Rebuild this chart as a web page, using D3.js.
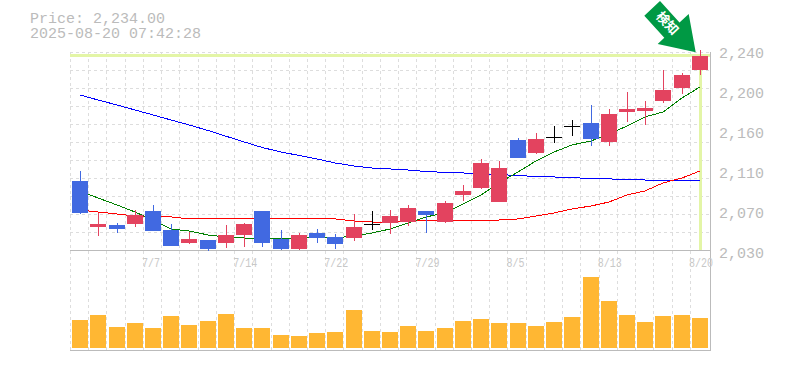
<!DOCTYPE html>
<html>
<head>
<meta charset="utf-8">
<script src="https://cdn.jsdelivr.net/npm/d3@7"></script>
<style>
    html, body { margin: 0; padding: 0; background: #fff; }
    svg { display: block; }
    text { font-family: "Liberation Mono", monospace; fill: #bbb; }
</style>
</head>
<body>
<div id="chart"></div>
<script>
// Daily prices
const dates = ["7/1","7/2","7/3","7/4","7/7","7/8","7/9","7/10","7/11","7/14","7/15","7/16","7/17","7/18","7/22","7/23","7/24","7/25","7/28","7/29","7/30","7/31","8/1","8/4","8/5","8/6","8/7","8/8","8/12","8/13","8/14","8/15","8/18","8/19","8/20"];
const opens = [2102,2054,2056,2058,2071,2051,2038,2040,2038,2045,2071,2042,2031,2048,2044,2042,2057,2059,2059,2071,2059,2088,2095,2080,2146,2132,2149,2160,2163,2144,2175,2176,2186,2200,2219];
const closes = [2068,2057,2052,2067,2050,2034,2042,2031,2046,2057,2037,2031,2046,2043,2037,2054,2057,2066,2074,2067,2079,2092,2121,2116,2127,2147,2149,2160,2146,2173,2178,2179,2198,2214,2234];
const highs = [2113,2069,2058,2072,2077,2057,2049,2040,2056,2058,2071,2051,2048,2052,2047,2068,2071,2072,2077,2071,2081,2098,2126,2123,2148,2153,2160,2167,2182,2178,2196,2186,2219,2216,2240];
const lows = [2068,2045,2048,2054,2050,2034,2036,2029,2032,2033,2033,2030,2030,2037,2031,2039,2051,2047,2055,2048,2058,2081,2094,2080,2127,2131,2142,2150,2139,2139,2164,2161,2184,2194,2214];
const volumes = [2800,3300,2100,2500,2000,3200,2300,2700,3400,2000,2000,1300,1200,1500,1600,3800,1700,1600,2200,1700,2000,2700,2900,2500,2500,2200,2600,3100,7100,4700,3300,2600,3200,3300,3000];

// Moving averages
const ma5 = [2092,2084.6,2077.3,2069.9,2061.5,2052,2050,2045.8,2043.7,2042.6,2042.6,2041.6,2042.6,2043.7,2042.6,2044.7,2047.9,2052,2058.4,2064.7,2068.9,2078.3,2087.8,2100.4,2111.9,2123.5,2132.9,2140.3,2144.5,2151.8,2160.2,2169.7,2174.9,2189.6,2201.2];
const ma25 = [2072,2069.9,2067.8,2065.7,2064.7,2064.7,2062.6,2062.6,2062.6,2063.6,2063.6,2062.6,2062.6,2062.6,2062.6,2060.5,2059.4,2059.4,2060.5,2061.5,2060.5,2060.5,2060.5,2061.5,2062.6,2065.7,2068.9,2073.1,2076.2,2080.4,2087.8,2092,2100.4,2105.6,2113];
const ma75 = [2192.8,2187.5,2182.3,2177,2171.8,2166.5,2161.3,2155.5,2149.5,2143.5,2137.7,2132.9,2129.3,2125.6,2121.4,2118.2,2116.1,2115.1,2114,2112.4,2111.5,2110.9,2110,2109.5,2107.9,2107.5,2106.7,2105.8,2105.3,2104.6,2104.2,2103.5,2103.5,2103.5,2103.5];

// Tick labels
const yTicks = [2240,2198,2156,2114,2072,2030];
const xTicks = ["7/7","7/14","7/22","7/29","8/5","8/13","8/20"];
const gridPrices = [2030,2048.9,2067.8,2086.7,2105.6,2124.5,2143.4,2162.3,2181.2,2200.1,2219,2237.9];
const titleLines = ["Price: 2,234.00", "2025-08-20 07:42:28"];
const lastClose = 2234;

const width = 785;
const height = 370;
const upColor = "#e3435f";
const downColor = "#4169e1";
const gridColor = "#ddd";
const axisColor = "#bbb";
const markColor = "#e3f5a6";

const svg = d3.select("#chart")
    .append("svg")
    .attr("width", width)
    .attr("height", height);

const xScale = d3.scaleBand()
    .domain(dates)
    .range([71, 709]);

const yScale = d3.scaleLinear()
    .domain([2030, 2240])
    .range([250, 50]);

const volScale = d3.scaleLinear()
    .domain([0, d3.max(volumes)])
    .range([348, 277]);

const center = d => Math.round(xScale(d) + xScale.bandwidth() / 2);
const snap = v => Math.round(v) + 0.5;
const bodyWidth = 16;

// Grid
const grid = svg.append("g")
    .attr("stroke", gridColor)
    .attr("stroke-dasharray", "3,3")
    .attr("shape-rendering", "crispEdges");

grid.selectAll(".gx")
    .data(dates)
    .enter()
    .append("line")
    .attr("x1", d => snap(xScale(d) - 1))
    .attr("x2", d => snap(xScale(d) - 1))
    .attr("y1", snap(yScale(gridPrices[11])))
    .attr("y2", 350);

grid.selectAll(".gy")
    .data(gridPrices.slice(1))
    .enter()
    .append("line")
    .attr("x1", 70)
    .attr("x2", 710)
    .attr("y1", d => snap(yScale(d)))
    .attr("y2", d => snap(yScale(d)));

// Axis frame
const frame = svg.append("g")
    .attr("stroke", axisColor)
    .attr("shape-rendering", "crispEdges");

frame.append("line").attr("x1", 70).attr("x2", 710).attr("y1", 250.5).attr("y2", 250.5);
frame.append("line").attr("x1", 70).attr("x2", 711).attr("y1", 350.5).attr("y2", 350.5);
frame.append("line").attr("x1", 710.5).attr("x2", 710.5).attr("y1", 52).attr("y2", 351);

// Last price cross
const lastX = center(dates[dates.length - 1]);
svg.append("rect")
    .attr("x", 70)
    .attr("y", Math.round(yScale(lastClose)) - 2)
    .attr("width", 640)
    .attr("height", 3)
    .attr("fill", markColor);

svg.append("rect")
    .attr("x", lastX - 1)
    .attr("y", Math.round(yScale(lastClose)))
    .attr("width", 3)
    .attr("height", 194)
    .attr("fill", markColor);

// Moving averages
const line = d3.line()
    .x((d, i) => center(dates[i]))
    .y(d => yScale(d));

[[ma75, "#0000ff"], [ma25, "#ff0000"], [ma5, "#008000"]].forEach(([values, color]) => {
    svg.append("path")
        .attr("d", line(values))
        .attr("fill", "none")
        .attr("stroke", color)
        .attr("stroke-width", 1)
        .attr("shape-rendering", "crispEdges");
});

// Candles
const candleColor = i => closes[i] > opens[i] ? upColor : closes[i] < opens[i] ? downColor : "#000";

const candles = svg.selectAll(".candle")
    .data(dates)
    .enter()
    .append("g")
    .attr("class", "candle")
    .attr("shape-rendering", "crispEdges");

candles.append("line")
    .attr("x1", d => center(d) + 0.5)
    .attr("x2", d => center(d) + 0.5)
    .attr("y1", (d, i) => Math.round(yScale(highs[i])))
    .attr("y2", (d, i) => Math.round(yScale(lows[i])))
    .attr("stroke", (d, i) => candleColor(i));

candles.append("rect")
    .attr("x", d => center(d) - bodyWidth / 2)
    .attr("y", (d, i) => Math.round(yScale(Math.max(opens[i], closes[i]))))
    .attr("width", bodyWidth)
    .attr("height", (d, i) => Math.max(1, Math.round(Math.abs(yScale(opens[i]) - yScale(closes[i])))))
    .attr("fill", (d, i) => candleColor(i));

// Volume
svg.selectAll(".vol")
    .data(dates)
    .enter()
    .append("rect")
    .attr("x", d => center(d) - bodyWidth / 2)
    .attr("y", (d, i) => volScale(volumes[i]))
    .attr("width", bodyWidth)
    .attr("height", (d, i) => 348 - volScale(volumes[i]))
    .attr("fill", "#ffb733");

// Axes
const yAxis = svg.append("g")
    .attr("transform", "translate(719,0)")
    .call(d3.axisRight(yScale)
        .tickValues(yTicks)
        .tickSize(0)
        .tickPadding(0)
        .tickFormat(d => d3.format(",")(Math.round(d / 10) * 10)));
yAxis.select(".domain").remove();
yAxis.selectAll("text")
    .attr("dy", "7px")
    .style("font-size", "15px")
    .style("font-family", '"Liberation Mono", monospace')
    .attr("fill", "#bbb");

// Date labels are squeezed and start a fixed distance left of the candle
const xAxis = svg.append("g")
    .attr("transform", "translate(0,256)")
    .call(d3.axisBottom(xScale)
        .tickValues(xTicks)
        .tickSize(0)
        .tickPadding(0));
xAxis.select(".domain").remove();
xAxis.selectAll("text")
    .attr("x", -11)
    .attr("y", 11)
    .attr("dy", 0)
    .attr("text-anchor", "start")
    .attr("textLength", d => d.length * 6)
    .attr("lengthAdjust", "spacingAndGlyphs")
    .style("font-size", "13px")
    .style("font-family", '"Liberation Mono", monospace')
    .style("fill", "#c8c8c8");

// Title
svg.selectAll(".title")
    .data(titleLines)
    .enter()
    .append("text")
    .attr("x", 30)
    .attr("y", (d, i) => 23 + i * 15)
    .style("font-size", "15px")
    .text(d => d);

// Arrow with label
const arrow = svg.append("g");
arrow.append("polygon")
    .attr("points", "660,1 679.5,22.5 688.7,14 695.7,52.3 657.7,44 664.3,37.7 644.3,15.7")
    .attr("fill", "#009944");
arrow.append("text")
    .attr("transform", "translate(667.5,23) rotate(47)")
    .attr("text-anchor", "middle")
    .attr("dy", "0.36em")
    .style("font-family", '"Noto Sans CJK JP", sans-serif')
    .style("font-weight", 700)
    .style("font-size", "13px")
    .style("fill", "#fff")
    .text("検知");
</script>
</body>
</html>
